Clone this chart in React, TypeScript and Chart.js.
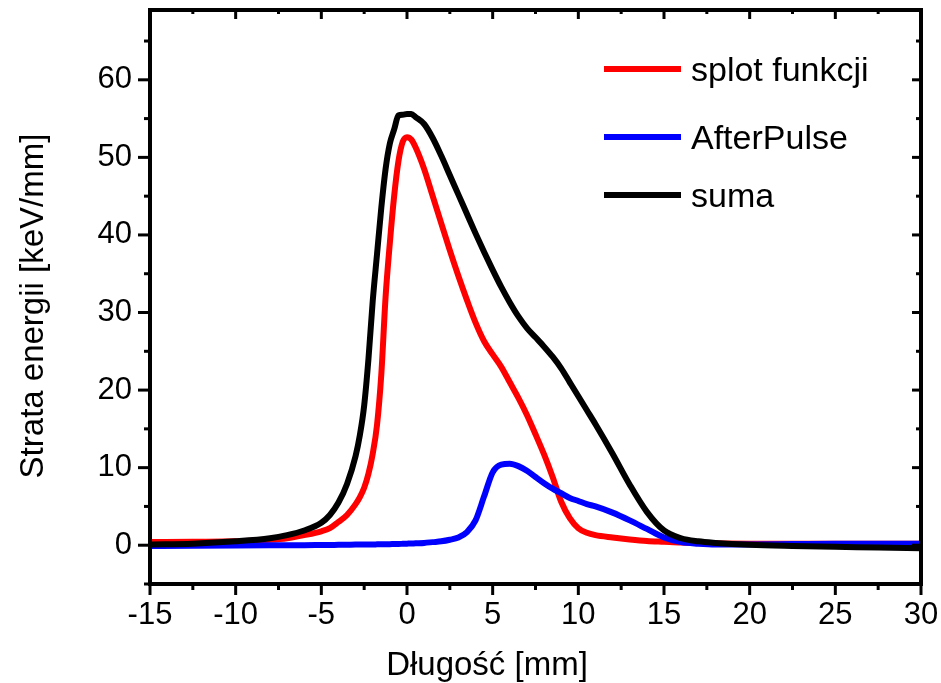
import React, { useEffect, useRef } from "react";
import { Chart, registerables } from "chart.js";

Chart.register(...registerables);

// ---- data ----
const X_MM = [
  -15, -12.5, -10, -8, -7, -6, -5, -4.5, -4, -3.5, -3, -2.75, -2.5, -2.25, -2,
  -1.75, -1.5, -1.25, -1, -0.75, -0.5, -0.25, 0, 0.25, 0.5, 1, 1.5, 2, 2.5, 3,
  3.5, 4, 4.5, 5, 5.5, 6, 6.5, 7, 7.5, 8, 8.5, 9, 9.5, 10, 10.5, 11, 12, 13, 14,
  15, 16, 17, 18, 20, 22.5, 25, 27.5, 30,
];

const SPLOT = [
  0.4, 0.45, 0.5, 0.7, 0.9, 1.3, 1.8, 2.2, 3.0, 3.9, 5.3, 6.2, 7.4, 9.2, 11.8,
  15.5, 22, 32, 39, 45, 49.5, 52, 52.6, 52.3, 51.3, 48.5, 45.0, 41.5, 38.0, 34.7,
  31.6, 28.7, 26.3, 24.6, 23, 21, 19, 16.8, 14.3, 11.7, 8.8, 5.6, 3.5, 2.2, 1.6,
  1.3, 1.0, 0.75, 0.55, 0.45, 0.35, 0.3, 0.25, 0.2, 0.2, 0.2, 0.2, 0.2,
];

const AFTERPULSE = [
  -0.1, -0.08, -0.05, -0.02, 0, 0, 0.02, 0.03, 0.05, 0.06, 0.08, 0.08, 0.09, 0.1,
  0.1, 0.11, 0.12, 0.13, 0.14, 0.15, 0.16, 0.18, 0.2, 0.22, 0.25, 0.3, 0.4, 0.5,
  0.7, 1.0, 1.7, 3.2, 6.3, 9.4, 10.4, 10.5, 10.2, 9.6, 8.8, 8.0, 7.3, 6.7, 6.1,
  5.7, 5.3, 5.0, 4.2, 3.2, 2.1, 1.0, 0.4, 0.2, 0.1, 0.1, 0.15, 0.2, 0.2, 0.2,
];

const SUMA = [
  0.1, 0.2, 0.5, 0.9, 1.3, 1.9, 2.9, 3.9, 5.5, 7.9, 11.5, 14.2, 18, 24, 31.5,
  37.5, 43.5, 48.5, 51.8, 53.6, 55.4, 55.5, 55.6, 55.6, 55.2, 54.3, 52.5, 50.2, 47.7,
  45.2, 42.7, 40.2, 37.8, 35.5, 33.3, 31.3, 29.5, 28, 26.8, 25.6, 24.3, 22.8, 21.0,
  19.2, 17.4, 15.6, 11.8, 7.8, 4.3, 1.9, 0.9, 0.5, 0.3, 0.05, -0.1, -0.2, -0.3, -0.4,
];

const SERIES_LABELS = ["splot funkcji", "AfterPulse", "suma"];
const SERIES_COLORS = ["#ff0000", "#0000ff", "#000000"];
const X_TITLE = "Długość [mm]";
const Y_TITLE = "Strata energii [keV/mm]";

const X_MIN = -15;
const X_MAX = 30;
const X_MAJOR = 5;
const X_MINOR = 2.5;
const Y_MIN = -5;
const Y_MAX = 69;
const Y_MAJOR = 10;
const Y_MINOR = 5;

const FONT = "'Liberation Sans', Arial, Helvetica, sans-serif";

const isMultiple = (v: number, step: number) =>
  Math.abs(v / step - Math.round(v / step)) < 1e-6;

const framePlugin = {
  id: "frameAndDecor",
  afterDatasetsDraw(chart: any) {
    const { ctx, chartArea: a } = chart;
    const xs = chart.scales.x;
    const ys = chart.scales.y;
    ctx.save();
    ctx.strokeStyle = "#000";
    ctx.lineCap = "butt";
    ctx.lineWidth = 3;
    const seg = (x1: number, y1: number, x2: number, y2: number) => {
      ctx.beginPath();
      ctx.moveTo(x1, y1);
      ctx.lineTo(x2, y2);
      ctx.stroke();
    };
    // x ticks: outward at bottom, inward at top
    for (let v = X_MIN; v <= X_MAX + 1e-9; v += X_MINOR) {
      const px = xs.getPixelForValue(v);
      const major = isMultiple(v, X_MAJOR);
      seg(px, a.bottom, px, a.bottom + (major ? 11 : 6));
      seg(px, a.top, px, a.top + (major ? 9 : 4));
    }
    // y ticks: outward at left, inward at right
    const yStart = Math.ceil(Y_MIN / Y_MINOR) * Y_MINOR;
    for (let v = yStart; v <= Y_MAX + 1e-9; v += Y_MINOR) {
      const py = ys.getPixelForValue(v);
      const major = isMultiple(v, Y_MAJOR);
      seg(a.left, py, a.left - (major ? 12 : 6), py);
      seg(a.right, py, a.right - (major ? 9 : 5), py);
    }
    // frame
    ctx.lineWidth = 4;
    ctx.lineJoin = "miter";
    ctx.strokeRect(a.left, a.top, a.right - a.left, a.bottom - a.top);

    // legend
    const legendY = [69, 137, 195];
    ctx.lineWidth = 6;
    ctx.font = `34px ${FONT}`;
    ctx.fillStyle = "#000";
    ctx.textAlign = "left";
    ctx.textBaseline = "alphabetic";
    SERIES_LABELS.forEach((lab, i) => {
      ctx.strokeStyle = SERIES_COLORS[i];
      seg(604, legendY[i], 681, legendY[i]);
      ctx.fillText(lab, 691, legendY[i] + 12);
    });

    // axis titles
    ctx.font = `33px ${FONT}`;
    ctx.textAlign = "center";
    ctx.fillText(X_TITLE, 487, 675);
    ctx.translate(43, 306);
    ctx.rotate(-Math.PI / 2);
    ctx.fillText(Y_TITLE, 0, 0);
    ctx.restore();
  },
};

export default function App() {
  const ref = useRef<HTMLCanvasElement | null>(null);

  useEffect(() => {
    if (!ref.current) return;
    const mk = (ys: number[]) => X_MM.map((x, i) => ({ x, y: ys[i] }));
    const series = [SPLOT, AFTERPULSE, SUMA];
    const orders = [3, 2, 1];
    const chart = new Chart(ref.current, {
      type: "line",
      data: {
        datasets: series.map((s, i) => ({
          label: SERIES_LABELS[i],
          data: mk(s),
          borderColor: SERIES_COLORS[i],
          backgroundColor: SERIES_COLORS[i],
          borderWidth: 6,
          pointRadius: 0,
          cubicInterpolationMode: "monotone" as const,
          borderJoinStyle: "round" as const,
          fill: false,
          order: orders[i],
        })),
      },
      options: {
        animation: false,
        responsive: false,
        devicePixelRatio: 1,
        layout: { padding: { top: 10, right: 20, left: 0, bottom: 0 } },
        plugins: {
          legend: { display: false },
          tooltip: { enabled: false },
          title: { display: false },
        },
        scales: {
          x: {
            type: "linear",
            min: X_MIN,
            max: X_MAX,
            ticks: {
              stepSize: X_MAJOR,
              includeBounds: false,
              color: "#000",
              font: { family: FONT, size: 31 },
              padding: 13,
              maxRotation: 0,
              autoSkip: false,
            },
            grid: { display: false, drawTicks: false },
            border: { display: false },
            afterFit: (scale: any) => {
              scale.height = 99;
              scale.paddingLeft = 0;
              scale.paddingRight = 0;
            },
          },
          y: {
            type: "linear",
            min: Y_MIN,
            max: Y_MAX,
            ticks: {
              stepSize: Y_MAJOR,
              includeBounds: false,
              color: "#000",
              font: { family: FONT, size: 31 },
              padding: 18,
              autoSkip: false,
            },
            grid: { display: false, drawTicks: false },
            border: { display: false },
            afterFit: (scale: any) => {
              scale.width = 150;
              scale.paddingTop = 0;
              scale.paddingBottom = 0;
            },
          },
        },
      },
      plugins: [framePlugin],
    });
    return () => chart.destroy();
  }, []);

  return (
    <div style={{ position: "absolute", left: 0, top: 0, width: 941, height: 683, background: "#fff" }}>
      <canvas ref={ref} width={941} height={683} style={{ width: 941, height: 683, display: "block" }} />
    </div>
  );
}
